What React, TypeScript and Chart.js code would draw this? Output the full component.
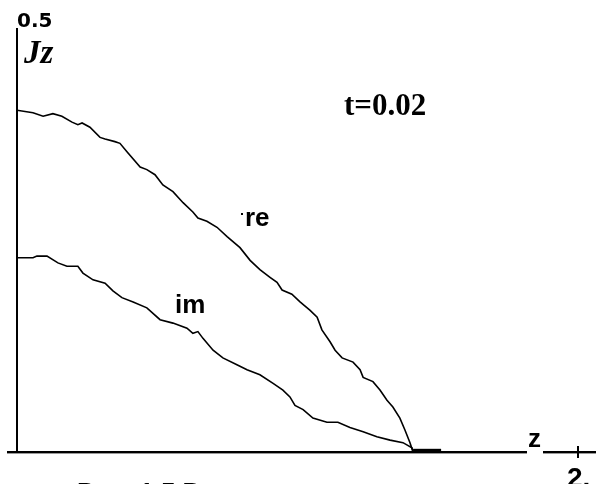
import React, { useEffect, useRef } from "react";
import { Chart, registerables } from "chart.js";

Chart.register(...registerables);

// z positions and values for the "re" curve
const reZ = [0, 0.057, 0.093, 0.128, 0.16, 0.196, 0.217, 0.232, 0.26, 0.296, 0.314, 0.349, 0.367, 0.392, 0.439, 0.463, 0.492, 0.52, 0.556, 0.592, 0.627, 0.645, 0.677, 0.713, 0.749, 0.795, 0.831, 0.866, 0.902, 0.927, 0.945, 0.98, 1.009, 1.045, 1.07, 1.087, 1.116, 1.134, 1.159, 1.198, 1.223, 1.234, 1.269, 1.294, 1.319, 1.34, 1.365, 1.383, 1.401, 1.412];
const reV = [0.403, 0.4, 0.396, 0.399, 0.396, 0.389, 0.386, 0.388, 0.383, 0.371, 0.369, 0.366, 0.364, 0.354, 0.336, 0.333, 0.327, 0.315, 0.307, 0.294, 0.283, 0.276, 0.272, 0.265, 0.254, 0.241, 0.226, 0.215, 0.206, 0.2, 0.191, 0.186, 0.177, 0.167, 0.159, 0.144, 0.13, 0.12, 0.111, 0.106, 0.097, 0.088, 0.083, 0.073, 0.061, 0.053, 0.04, 0.026, 0.011, 0.0];

// z positions and values for the "im" curve
const imZ = [0, 0.057, 0.071, 0.107, 0.146, 0.178, 0.217, 0.235, 0.271, 0.314, 0.342, 0.374, 0.414, 0.463, 0.51, 0.556, 0.606, 0.627, 0.645, 0.663, 0.699, 0.734, 0.784, 0.82, 0.866, 0.913, 0.948, 0.973, 0.991, 1.02, 1.055, 1.105, 1.144, 1.187, 1.234, 1.283, 1.33, 1.376, 1.408, 1.412];
const imV = [0.229, 0.229, 0.231, 0.231, 0.223, 0.219, 0.219, 0.211, 0.203, 0.199, 0.19, 0.182, 0.177, 0.17, 0.156, 0.152, 0.146, 0.14, 0.142, 0.134, 0.12, 0.111, 0.103, 0.097, 0.091, 0.081, 0.073, 0.065, 0.055, 0.05, 0.04, 0.035, 0.035, 0.029, 0.024, 0.018, 0.014, 0.011, 0.005, 0.0];

// zero segment after both curves reach the axis
const zeroZ = [1.412, 1.512];
const zeroV = [0.002, 0.002];

const yTickLabel = "0.5";
const xTickLabel = "2.";
const yAxisTitle = "Jz";
const xAxisTitle = "z";
const timeLabel = "t=0.02";
const reLabel = "re";
const imLabel = "im";
const captionText = "Рис. 1.5 Р";

const pts = (xs: number[], ys: number[]) => xs.map((x, i) => ({ x, y: ys[i] }));

const overlay = {
  id: "overlay",
  afterDatasetsDraw(chart: any) {
    const ctx = chart.ctx as CanvasRenderingContext2D;
    const xs = chart.scales.x;
    const ys = chart.scales.y;
    const x0 = xs.getPixelForValue(0);
    const x2 = xs.getPixelForValue(2);
    const y0 = ys.getPixelForValue(0);
    const yTop = ys.getPixelForValue(0.5);
    ctx.save();
    ctx.fillStyle = "#000";
    // y axis
    ctx.fillRect(x0 - 1, yTop, 2, y0 - yTop);
    // x axis (with gap for "z")
    ctx.fillRect(7, y0 - 1, 520, 2);
    ctx.fillRect(543, y0 - 1, 53, 2);
    ctx.fillStyle = "#999";
    ctx.fillRect(7, y0 + 1, 520, 1);
    ctx.fillRect(543, y0 + 1, 53, 1);
    ctx.fillStyle = "#000";
    // tick at z = 2
    ctx.fillRect(x2 - 1, y0 - 6, 2, 12);

    ctx.textAlign = "left";
    ctx.textBaseline = "alphabetic";
    ctx.font = "bold 20px 'DejaVu Sans'";
    ctx.fillText(yTickLabel, 17, 27);
    ctx.font = "italic bold 33px 'Liberation Serif'";
    ctx.fillText(yAxisTitle, 24, 63);
    ctx.font = "bold 26px 'Liberation Sans'";
    ctx.fillText(xAxisTitle, 528, 447);
    ctx.font = "bold 28px 'Liberation Sans'";
    ctx.fillText(xTickLabel, 567, 487);
    ctx.font = "bold 31px 'Liberation Serif'";
    ctx.fillText(timeLabel, 344, 115);
    ctx.font = "bold 26px 'Liberation Sans'";
    ctx.fillText(reLabel, 245, 226);
    ctx.fillRect(241, 213, 2, 2);
    ctx.fillText(imLabel, 175, 313);
    ctx.font = "bold 26px 'Liberation Sans'";
    ctx.fillText(captionText, 77, 501);
    ctx.restore();
  },
};

export default function App() {
  const ref = useRef<HTMLCanvasElement | null>(null);
  useEffect(() => {
    if (!ref.current) return;
    const chart = new Chart(ref.current, {
      type: "scatter",
      data: {
        datasets: [
          { data: pts(reZ, reV), showLine: true, borderColor: "#000", borderWidth: 1.6, pointRadius: 0, tension: 0 },
          { data: pts(imZ, imV), showLine: true, borderColor: "#000", borderWidth: 1.6, pointRadius: 0, tension: 0 },
          { data: pts(zeroZ, zeroV), showLine: true, borderColor: "#000", borderWidth: 3, pointRadius: 0, clip: false as any },
        ],
      },
      options: {
        animation: false,
        responsive: false,
        devicePixelRatio: 1,
        layout: { padding: { left: 17, right: 18, top: 28, bottom: 32 } },
        plugins: { legend: { display: false }, tooltip: { enabled: false } },
        scales: {
          x: { type: "linear", min: 0, max: 2, display: false },
          y: { type: "linear", min: 0, max: 0.5, display: false },
        },
      },
      plugins: [overlay],
    });
    return () => chart.destroy();
  }, []);
  return (
    <div style={{ position: "absolute", left: 0, top: 0, width: 596, height: 484, overflow: "hidden", background: "#fff" }}>
      <canvas ref={ref} width={596} height={484} style={{ display: "block" }} />
    </div>
  );
}
